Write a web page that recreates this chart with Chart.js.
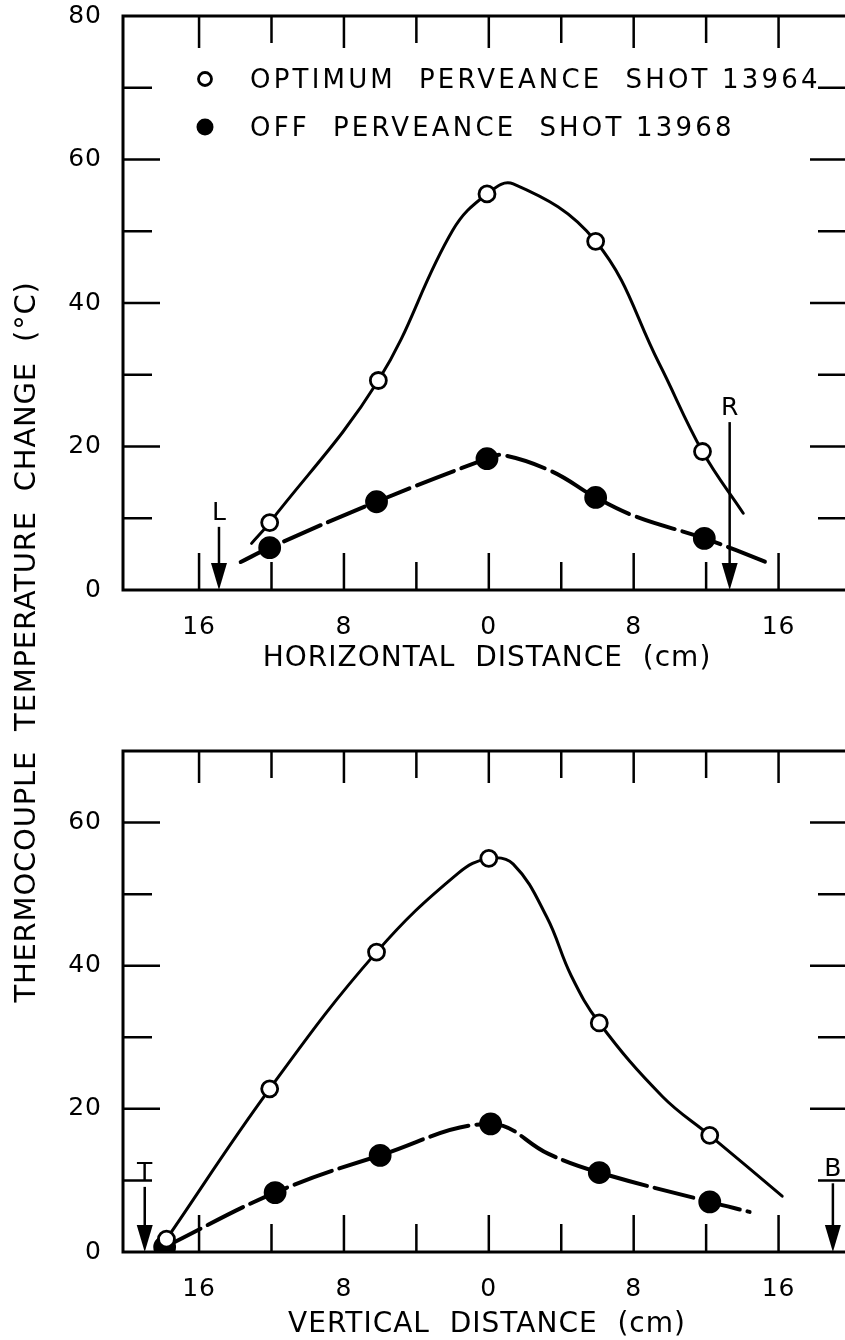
<!DOCTYPE html>
<html>
<head>
<meta charset="utf-8">
<script src="https://cdn.jsdelivr.net/npm/chart.js@4.4.0/dist/chart.umd.min.js"></script>
<style>
    html, body { margin: 0; padding: 0; background: #fff; overflow: hidden; width: 845px; height: 1340px; }
    .panel { position: absolute; left: 0; }
    #top-panel { top: 0; }
    #bottom-panel { top: 700px; }
    #y-title {
        position: absolute; left: -375px; top: 625px; width: 800px; height: 34px; line-height: 34px;
        text-align: center; transform: rotate(-90deg); white-space: pre;
        font: 29px "DejaVu Sans", sans-serif; letter-spacing: 0.8px; color: #000;
    }
</style>
</head>
<body>
<div class="panel" id="top-panel"><canvas id="topChart" width="870" height="680"></canvas></div>
<div class="panel" id="bottom-panel"><canvas id="bottomChart" width="870" height="645"></canvas></div>
<div id="y-title">THERMOCOUPLE  TEMPERATURE  CHANGE  (°C)</div>
<script>
// x positions in cm, values in degrees C
const xTickValues = [-16, -12, -8, -4, 0, 4, 8, 12, 16];

const topYLabels = [0, 20, 40, 60, 80];
const topYTicks = [10, 20, 30, 40, 50, 60, 70];
const bottomYLabels = [0, 20, 40, 60];
const bottomYTicks = [10, 20, 30, 40, 50, 60];

const topOpenX = [-12.1, -6.1, -0.1, 5.9, 11.8];
const topOpenY = [9.4, 29.2, 55.2, 48.6, 19.3];
const topFilledX = [-12.1, -6.2, -0.1, 5.9, 11.9];
const topFilledY = [5.9, 12.3, 18.3, 12.9, 7.2];

// hand-drawn curves
const topSolidCurve = [[-13.1, 6.5], [-12.1, 9.4], [-6.1, 29.2], [-2, 50.1], [-0.1, 55.2], [1.35, 56.6],
    [5.9, 48.6], [9.4, 31.6], [11.8, 19.3], [14.05, 10.7]];
const topDashedCurve = [[-13.7, 3.9], [-12.1, 5.9], [-6.2, 12.3], [-0.1, 18.3], [0.8, 18.8], [3.5, 16.5],
    [5.9, 12.9], [8.15, 10.2], [11.9, 7.2], [15.4, 3.8]];

const bottomOpenX = [-17.8, -12.1, -6.2, 0, 6.1, 12.2];
const bottomOpenY = [1.8, 22.8, 41.9, 55.0, 32.0, 16.3];
const bottomFilledX = [-17.9, -11.8, -6.0, 0.1, 6.1, 12.2];
const bottomFilledY = [0.7, 8.3, 13.5, 17.9, 11.1, 7.0];

const bottomSolidCurve = [[-17.8, 1.8], [-12.1, 22.8], [-6.2, 41.9], [-1.7, 52.9], [0, 55], [1.35, 54.2],
    [3.2, 46.8], [4.55, 38.6], [6.1, 32], [9.6, 21.7], [12.2, 16.3], [16.2, 7.8]];
const bottomDashedCurve = [[-17.9, 0.7], [-11.8, 8.3], [-6.0, 13.5], [0.1, 17.9], [3.3, 13.7], [6.1, 11.1],
    [12.2, 7.0], [14.4, 5.6]];

const topArrows = [{ label: "L", x: -14.9, top: 8.8 }, { label: "R", x: 13.3, top: 23.4 }];
const bottomArrows = [{ label: "T", x: -19.0, top: 9.1 }, { label: "B", x: 19.0, top: 9.6 }];

const legendLabels = ["OPTIMUM  PERVEANCE  SHOT 13964", "OFF  PERVEANCE  SHOT 13968"];

(function () {
    const ink = "#000";
    const family = "'DejaVu Sans', sans-serif";

    function pairs(xs, ys) {
        return xs.map((x, i) => ({ x: x, y: ys[i] }));
    }

    function curve(points, dash, width) {
        return {
            data: points.map(p => ({ x: p[0], y: p[1] })),
            showLine: true,
            borderColor: ink,
            borderWidth: width,
            borderDash: dash,
            borderCapStyle: "round",
            borderJoinStyle: "round",
            tension: 0.4,
            pointRadius: 0,
            order: 3
        };
    }

    function markers(data, fill, radius, order) {
        return {
            data: data,
            showLine: false,
            pointStyle: "circle",
            pointRadius: radius,
            pointBackgroundColor: fill,
            pointBorderColor: ink,
            pointBorderWidth: 2.8,
            order: order
        };
    }

    function framePlugin(cfg) {
        return {
            id: "frame",
            beforeDraw(chart) {
                chart.ctx.letterSpacing = "1px";
            },
            beforeDatasetsDraw(chart) {
                const ctx = chart.ctx;
                const a = chart.chartArea;
                const xs = chart.scales.x;
                const ys = chart.scales.y;
                ctx.save();
                ctx.strokeStyle = ink;
                ctx.lineWidth = 3;
                ctx.strokeRect(a.left, a.top, a.right - a.left, a.bottom - a.top);
                ctx.lineWidth = 2.5;
                ctx.beginPath();
                xTickValues.forEach(v => {
                    const px = xs.getPixelForValue(v);
                    const major = v % 8 === 0;
                    ctx.moveTo(px, a.bottom);
                    ctx.lineTo(px, a.bottom - (major ? 37 : 28));
                    ctx.moveTo(px, a.top);
                    ctx.lineTo(px, a.top + (major ? 32 : 27));
                });
                cfg.yTicks.forEach(v => {
                    const py = ys.getPixelForValue(v);
                    const len = v % 20 === 0 ? 37 : 29;
                    ctx.moveTo(a.left, py);
                    ctx.lineTo(a.left + len, py);
                    ctx.moveTo(a.right, py);
                    ctx.lineTo(a.right - len - 4, py);
                });
                ctx.stroke();
                ctx.restore();
            },
            afterDraw(chart) {
                const ctx = chart.ctx;
                const a = chart.chartArea;
                const xs = chart.scales.x;
                const ys = chart.scales.y;
                ctx.save();
                ctx.strokeStyle = ink;
                ctx.fillStyle = ink;

                cfg.arrows.forEach(ar => {
                    const px = xs.getPixelForValue(ar.x);
                    const top = ys.getPixelForValue(ar.top);
                    ctx.lineWidth = 2.5;
                    ctx.beginPath();
                    ctx.moveTo(px, top);
                    ctx.lineTo(px, a.bottom - 20);
                    ctx.stroke();
                    ctx.beginPath();
                    ctx.moveTo(px - 8, a.bottom - 27);
                    ctx.lineTo(px + 8, a.bottom - 27);
                    ctx.lineTo(px, a.bottom);
                    ctx.closePath();
                    ctx.fill();
                    ctx.font = "25px " + family;
                    ctx.letterSpacing = "0px";
                    ctx.textAlign = "center";
                    ctx.textBaseline = "alphabetic";
                    ctx.fillText(ar.label, px, top - 7);
                });

                if (cfg.legend) {
                    ctx.font = "26px " + family;
                    ctx.letterSpacing = "3.2px";
                    ctx.textAlign = "left";
                    ctx.textBaseline = "middle";
                    cfg.legend.forEach((text, i) => {
                        const cy = a.top + 63 + i * 48;
                        const cx = a.left + 82;
                        ctx.beginPath();
                        if (i === 0) {
                            ctx.lineWidth = 2.8;
                            ctx.fillStyle = "#fff";
                            ctx.arc(cx, cy, 6.5, 0, Math.PI * 2);
                            ctx.fill();
                            ctx.stroke();
                        } else {
                            ctx.fillStyle = ink;
                            ctx.arc(cx, cy, 8.5, 0, Math.PI * 2);
                            ctx.fill();
                        }
                        ctx.fillStyle = ink;
                        ctx.fillText(text, a.left + 127, cy + 2);
                    });
                }
                ctx.restore();
            }
        };
    }

    function panelChart(canvasId, cfg) {
        return new Chart(document.getElementById(canvasId), {
            type: "scatter",
            data: {
                datasets: [
                    curve(cfg.solid, [], 3),
                    curve(cfg.dashed, [40, 8], 4),
                    markers(cfg.open, "#fff", 8, 1),
                    markers(cfg.filled, ink, 10, 2)
                ]
            },
            options: {
                responsive: false,
                animation: false,
                layout: { padding: { left: 0, right: 19, top: cfg.padTop, bottom: cfg.padBottom } },
                plugins: { legend: { display: false }, tooltip: { enabled: false } },
                scales: {
                    x: {
                        type: "linear",
                        min: -20.2,
                        max: 20,
                        afterFit: s => {
                            s.height = cfg.xAxisHeight;
                            s.paddingLeft = 0;
                            s.paddingRight = 0;
                        },
                        afterBuildTicks: s => { s.ticks = xTickValues.map(v => ({ value: v })); },
                        grid: { display: false, drawTicks: false },
                        border: { display: false },
                        ticks: {
                            color: ink,
                            font: { family: family, size: 25 },
                            padding: 22,
                            maxRotation: 0,
                            autoSkip: false,
                            callback: v => (Math.abs(v) % 8 === 0 ? String(Math.abs(v)) : "")
                        },
                        title: {
                            display: true,
                            text: cfg.xTitle,
                            color: ink,
                            font: { family: family, size: 28 },
                            padding: 0
                        }
                    },
                    y: {
                        min: 0,
                        max: cfg.yMax,
                        afterFit: s => {
                            s.width = 123;
                            s.paddingTop = 0;
                            s.paddingBottom = 0;
                        },
                        afterBuildTicks: s => { s.ticks = cfg.yLabels.map(v => ({ value: v })); },
                        grid: { display: false, drawTicks: false },
                        border: { display: false },
                        ticks: {
                            color: ink,
                            font: { family: family, size: 25 },
                            padding: 21
                        }
                    }
                }
            },
            plugins: [framePlugin(cfg)]
        });
    }

    panelChart("topChart", {
        solid: topSolidCurve,
        dashed: topDashedCurve,
        open: pairs(topOpenX, topOpenY),
        filled: pairs(topFilledX, topFilledY),
        yMax: 80,
        yLabels: topYLabels,
        yTicks: topYTicks,
        arrows: topArrows,
        legend: legendLabels,
        xTitle: "HORIZONTAL  DISTANCE  (cm)",
        padTop: 16,
        padBottom: 4,
        xAxisHeight: 86
    });

    panelChart("bottomChart", {
        solid: bottomSolidCurve,
        dashed: bottomDashedCurve,
        open: pairs(bottomOpenX, bottomOpenY),
        filled: pairs(bottomFilledX, bottomFilledY),
        yMax: 70,
        yLabels: bottomYLabels,
        yTicks: bottomYTicks,
        arrows: bottomArrows,
        legend: null,
        xTitle: "VERTICAL  DISTANCE  (cm)",
        padTop: 51,
        padBottom: 3,
        xAxisHeight: 90
    });
})();
</script>
</body>
</html>
